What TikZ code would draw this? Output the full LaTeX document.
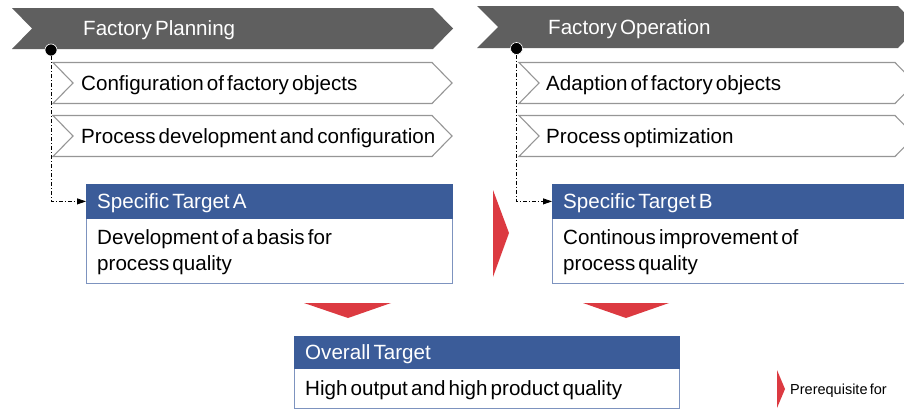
\documentclass[tikz,border=0pt]{standalone}
\usepackage{fontspec}
\setmainfont{Liberation Sans}[WordSpace=0.55]
\usetikzlibrary{arrows.meta}

\definecolor{chevgray}{HTML}{5F5F5F}
\definecolor{linegray}{HTML}{969696}
\definecolor{hdrblue}{HTML}{3B5C99}
\definecolor{boxline}{HTML}{7D93BF}
\definecolor{prered}{HTML}{DC3A41}

\begin{document}
\begin{tikzpicture}[x=1pt,y=-1pt,
  every node/.style={font=\fontsize{20.6}{26}\selectfont},
  lbl/.style={anchor=west, inner sep=0pt, text height=14.8pt, text depth=0pt},
  wlbl/.style={lbl, text=white},
  phase/.style={fill=chevgray},
  task/.style={draw=linegray, line width=1.1pt, fill=white},
  hdr/.style={anchor=north west, fill=hdrblue, draw=hdrblue, line width=0.8pt, inner sep=0pt},
  body/.style={anchor=north west, fill=white, draw=boxline, line width=1pt, inner sep=0pt},
  pin/.style={circle, fill=black, draw=white, line width=0.6pt, minimum size=12pt, inner sep=0pt},
  link/.style={line width=0.8pt, dash pattern=on 4pt off 2pt on 1pt off 2pt,
               -{Triangle[length=9pt,width=6pt]}},
  prereq/.style={fill=prered}]

\useasboundingbox (0,0) rectangle (904,410);
\clip (0,0) rectangle (904,410);

% phase chevrons
\fill[phase] (12,8) -- (433,8) -- (453,28.5) -- (433,49) -- (12,49) -- (32,28.5) -- cycle;
\fill[phase] (477,6) -- (898,6) -- (918,27) -- (898,48) -- (477,48) -- (498,27) -- cycle;
\node[wlbl] (planT) at (83,28) {Factory Planning};
\node[wlbl] (operT) at (548,27) {Factory Operation};

% task chevrons
\foreach \y in {62.5,115.5} {
  \draw[task] (53,\y) -- (432,\y) -- (452,\y+20.5) -- (432,\y+41) -- (53,\y+41) -- (73,\y+20.5) -- cycle;
  \draw[task] (519,\y) -- (895,\y) -- (915,\y+20.5) -- (895,\y+41) -- (519,\y+41) -- (539,\y+20.5) -- cycle;
}
\node[lbl] (cfg) at (81,83) {Configuration of factory objects};
\node[lbl] (pdev) at (81,136) {Process development and configuration};
\node[lbl] (adapt) at (546,83) {Adaption of factory objects};
\node[lbl] (popt) at (546,136) {Process optimization};

% specific target A
\node[body, minimum width=366pt, minimum height=65pt] (bA) at (86,218) {};
\node[hdr, minimum width=366pt, minimum height=34pt] (hA) at (86,184) {};
\node[wlbl] (tA) at (97,201) {Specific Target A};
\node[lbl] (dA1) at (97,237) {Development of a basis for};
\node[lbl] (dA2) at (97,263) {process quality};

% specific target B
\node[body, minimum width=366pt, minimum height=65pt] (bB) at (552,218) {};
\node[hdr, minimum width=366pt, minimum height=34pt] (hB) at (552,184) {};
\node[wlbl] (tB) at (563,201) {Specific Target B};
\node[lbl] (dB1) at (563,237) {Continous improvement of};
\node[lbl] (dB2) at (563,263) {process quality};

% overall target
\node[body, minimum width=385pt, minimum height=40pt] (bO) at (294,368) {};
\node[hdr, minimum width=385pt, minimum height=32pt] (hO) at (294,336) {};
\node[wlbl] (tO) at (305,352) {Overall Target};
\node[lbl] (dO) at (305,388) {High output and high product quality};

% phase pins and links to the specific targets
\node[pin] (pinA) at (51,50) {};
\node[pin] (pinB) at (516.5,48.5) {};
\draw[link] (pinA.south) |- (hA.west);
\draw[link] (pinB.south) |- (hB.west);

% prerequisite markers
\fill[prereq] (493,190) -- (509,233) -- (493,277) -- cycle;
\fill[prereq] (304,303) -- (391,303) -- (348,318) -- cycle;
\fill[prereq] (583,303) -- (669,303) -- (626,318) -- cycle;

% legend
\fill[prereq] (777,370) -- (785,389) -- (777,408) -- cycle;
\node[anchor=west, inner sep=0pt, text height=10.5pt, text depth=0pt,
      font=\fontsize{14.5}{17}\selectfont] (leg) at (790,389) {Prerequisite for};
\end{tikzpicture}
\end{document}
